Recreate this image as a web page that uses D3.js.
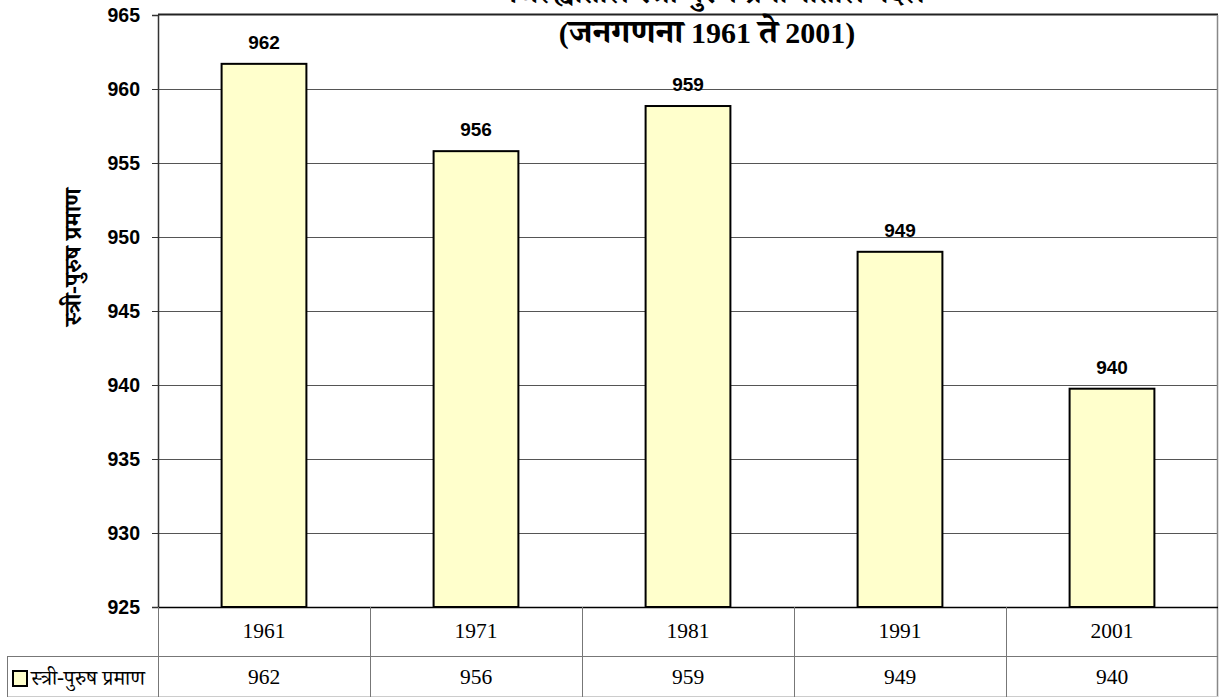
<!DOCTYPE html>
<html>
<head>
<meta charset="utf-8">
<script src="https://cdn.jsdelivr.net/npm/d3@7"></script>
<style>
  html, body { margin: 0; padding: 0; background: #fff; }
  svg { display: block; }
</style>
</head>
<body>
<div id="chart"></div>
<script>
// data
const years = ["1961", "1971", "1981", "1991", "2001"];
const ratio = [961.7, 955.8, 958.85, 949.0, 939.75];
const ratioLabels = ["962", "956", "959", "949", "940"];
const yTicks = [925, 930, 935, 940, 945, 950, 955, 960, 965];
const seriesName = "स्त्री-पुरुष प्रमाण";
const titleLine1 = "जिल्ह्यातील स्त्री-पुरुष प्रमाणातील बदल";
// second title line split so the digits get a serif face
const titleLine2 = [["(", "serif"], ["जनगणना", "deva"], [" 1961 ", "serif"], ["ते", "deva"], [" 2001)", "serif"]];

const width = 1225, height = 698;
const margin = { left: 158, right: 7, top: 15 };
const plotBottom = 607;
const row1 = 656, row2 = 697;
const serifFont = "'Liberation Serif', 'Times New Roman', serif";
const devaFont = "'Noto Serif Devanagari', 'Noto Sans Devanagari', 'Noto Sans', sans-serif";
const sansFont = "'Liberation Sans', Arial, sans-serif";

const svg = d3.select("#chart").append("svg")
    .attr("width", width)
    .attr("height", height);

const x = d3.scaleBand()
    .domain(years)
    .range([margin.left, width - margin.right])
    .paddingInner(0.6)
    .paddingOuter(0.3);

const y = d3.scaleLinear()
    .domain([925, 965])
    .range([plotBottom, margin.top]);

// gridlines
svg.append("g")
    .selectAll("line")
    .data(yTicks.slice(1, -1))
    .join("line")
    .attr("x1", margin.left)
    .attr("x2", width - margin.right)
    .attr("y1", d => y(d) + 0.5)
    .attr("y2", d => y(d) + 0.5)
    .attr("stroke", "#555")
    .attr("stroke-width", 1);

// plot border (top + right)
svg.append("line")
    .attr("x1", margin.left).attr("x2", width - margin.right)
    .attr("y1", margin.top - 0.5).attr("y2", margin.top - 0.5)
    .attr("stroke", "#222").attr("stroke-width", 2);
svg.append("line")
    .attr("x1", width - margin.right - 0.5).attr("x2", width - margin.right - 0.5)
    .attr("y1", margin.top).attr("y2", row2)
    .attr("stroke", "#888").attr("stroke-width", 1.5);

// bars
svg.append("g")
    .selectAll("rect")
    .data(years)
    .join("rect")
    .attr("x", d => x(d))
    .attr("width", x.bandwidth())
    .attr("y", (d, i) => y(ratio[i]))
    .attr("height", (d, i) => plotBottom - y(ratio[i]))
    .attr("fill", "#FFFFCC")
    .attr("stroke", "#000")
    .attr("stroke-width", 2);

// value labels
svg.append("g")
    .selectAll("text")
    .data(years)
    .join("text")
    .attr("x", d => x(d) + x.bandwidth() / 2)
    .attr("y", (d, i) => y(ratio[i]) - 15)
    .attr("text-anchor", "middle")
    .style("font-family", sansFont)
    .style("font-weight", "bold")
    .style("font-size", "19px")
    .text((d, i) => ratioLabels[i]);

// y axis
const yAxis = d3.axisLeft(y).tickValues(yTicks).tickSize(6).tickPadding(12).tickFormat(d3.format("d"));
const yg = svg.append("g")
    .attr("transform", `translate(${margin.left},0)`)
    .call(yAxis);
yg.select(".domain").attr("stroke", "#333").attr("stroke-width", 1.5);
yg.selectAll(".tick line").attr("stroke", "#333");
yg.selectAll(".tick text")
    .style("font-family", sansFont)
    .style("font-weight", "bold")
    .style("font-size", "19.5px")
    .attr("fill", "#000");

// y axis title
svg.append("text")
    .attr("transform", "translate(81,257) rotate(-90)")
    .attr("text-anchor", "middle")
    .style("font-family", devaFont)
    .style("font-weight", "bold")
    .style("font-size", "24px")
    .text(seriesName);

// titles (first line is clipped by the top edge, as in the original)
svg.append("text")
    .attr("x", 717).attr("y", 3)
    .attr("text-anchor", "middle")
    .style("font-family", devaFont)
    .style("font-weight", "bold")
    .style("font-size", "30px")
    .text(titleLine1);

// second line: one text, tspans placed after measuring each piece
const pieceStyle = (sel) => sel
    .style("font-size", d => d[1] === "serif" ? "30px" : "34px")
    .style("font-family", d => d[1] === "serif" ? serifFont : devaFont)
    .style("font-weight", "bold")
    .attr("xml:space", "preserve")
    .style("white-space", "pre");

const probe = svg.append("g").selectAll("text")
    .data(titleLine2)
    .join("text")
    .call(pieceStyle)
    .text(d => d[0]);
const widths = probe.nodes().map(n => n.getComputedTextLength());
probe.remove();
const starts = d3.cumsum([0].concat(widths.slice(0, -1))).map(v => v + 707 - d3.sum(widths) / 2);

svg.append("text")
    .attr("y", 43)
    .attr("xml:space", "preserve")
    .style("white-space", "pre")
    .selectAll("tspan")
    .data(titleLine2)
    .join("tspan")
    .call(pieceStyle)
    .attr("x", (d, i) => starts[i])
    .text(d => d[0]);

// data table
const table = svg.append("g");
const lineCol = "#777";
table.append("line")
    .attr("x1", margin.left).attr("x2", width - margin.right)
    .attr("y1", plotBottom + 0.5).attr("y2", plotBottom + 0.5)
    .attr("stroke", "#000").attr("stroke-width", 1.5);
table.append("line")
    .attr("x1", 7).attr("x2", width - margin.right)
    .attr("y1", row1 + 0.5).attr("y2", row1 + 0.5)
    .attr("stroke", lineCol);
table.append("line")
    .attr("x1", 7).attr("x2", width - margin.right)
    .attr("y1", row2 - 0.5).attr("y2", row2 - 0.5)
    .attr("stroke", "#ccc");
const colEdges = years.map(d => x(d) - x.step() * x.paddingInner() / 2);
table.selectAll(".vline")
    .data(colEdges)
    .join("line")
    .attr("class", "vline")
    .attr("x1", d => Math.round(d) + 0.5).attr("x2", d => Math.round(d) + 0.5)
    .attr("y1", plotBottom).attr("y2", row2)
    .attr("stroke", lineCol);
table.append("line")
    .attr("x1", 7.5).attr("x2", 7.5)
    .attr("y1", row1).attr("y2", row2)
    .attr("stroke", lineCol);

table.selectAll(".yr")
    .data(years)
    .join("text")
    .attr("class", "yr")
    .attr("x", d => x(d) + x.bandwidth() / 2)
    .attr("y", 638)
    .attr("text-anchor", "middle")
    .style("font-family", serifFont)
    .style("font-size", "21.5px")
    .text(d => d);
table.selectAll(".val")
    .data(years)
    .join("text")
    .attr("class", "val")
    .attr("x", d => x(d) + x.bandwidth() / 2)
    .attr("y", 684)
    .attr("text-anchor", "middle")
    .style("font-family", serifFont)
    .style("font-size", "21.5px")
    .text((d, i) => ratioLabels[i]);

// legend key
table.append("rect")
    .attr("x", 13).attr("y", 671).attr("width", 14).attr("height", 15)
    .attr("fill", "#FFFFCC").attr("stroke", "#000").attr("stroke-width", 2);
table.append("text")
    .attr("x", 31).attr("y", 685)
    .style("font-family", devaFont)
    .style("font-size", "21px")
    .text(seriesName);
</script>
</body>
</html>
